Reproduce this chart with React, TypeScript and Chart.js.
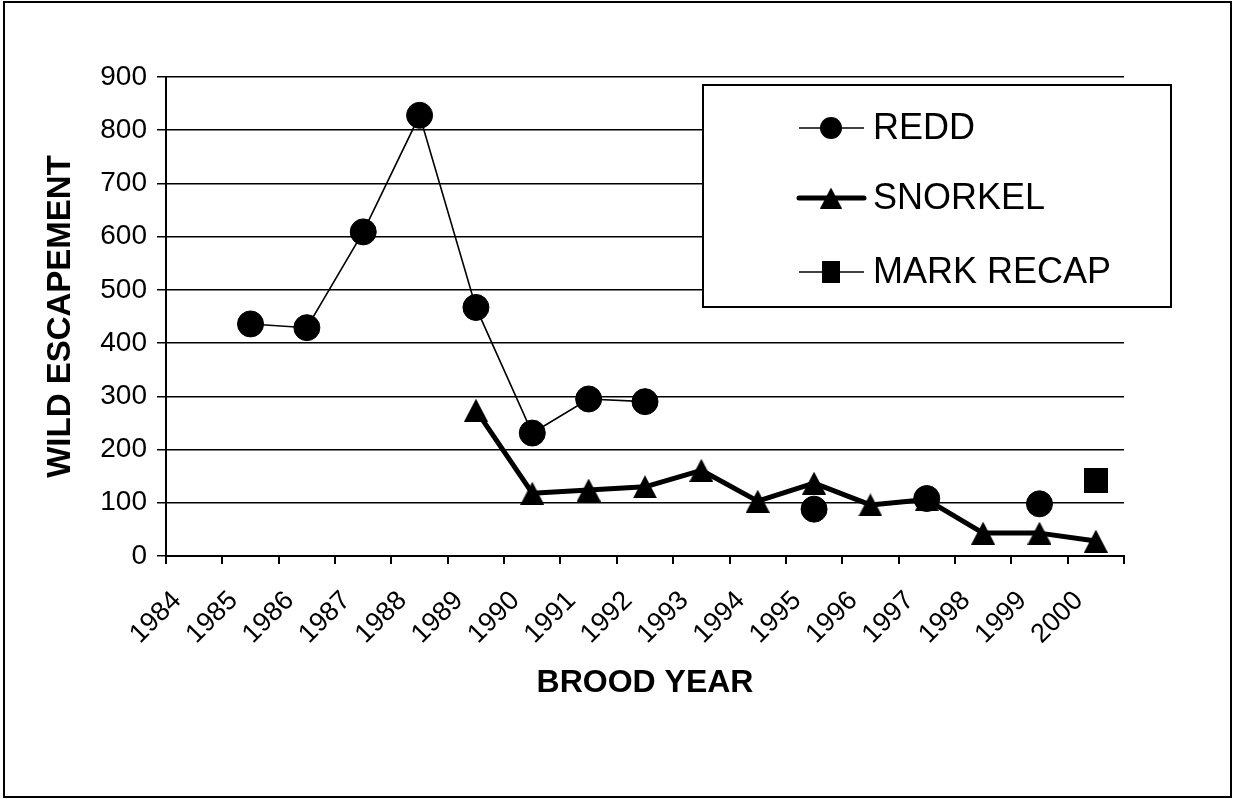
import React, { useEffect, useRef } from 'react';
import { Chart, registerables } from 'chart.js';

Chart.register(...registerables);

const years: string[] = ['1984', '1985', '1986', '1987', '1988', '1989', '1990', '1991', '1992', '1993', '1994', '1995', '1996', '1997', '1998', '1999', '2000'];
const reddValues: (number | null)[] = [null, 436, 429, 609, 828, 467, 231, 295, 290, null, null, 88, null, 108, null, 98, null];
const snorkelValues: (number | null)[] = [null, null, null, null, null, 274, 118, 124, 130, 161, 103, 137, 96, 106, 43, 43, 28];
const markRecapValues: (number | null)[] = [null, null, null, null, null, null, null, null, null, null, null, null, null, null, null, null, 141];
const yTicks: number[] = [0, 100, 200, 300, 400, 500, 600, 700, 800, 900];

const FONT = "'Liberation Sans', Arial, Helvetica, sans-serif";

function makeTriangle(w: number, h: number): HTMLCanvasElement {
  const c = document.createElement('canvas');
  c.width = w; c.height = h;
  const g = c.getContext('2d')!;
  g.fillStyle = '#000';
  g.beginPath();
  g.moveTo(0, h);
  g.lineTo(w / 2, 0);
  g.lineTo(w, h);
  g.closePath();
  g.fill();
  return c;
}
function makeRect(w: number, h: number): HTMLCanvasElement {
  const c = document.createElement('canvas');
  c.width = w; c.height = h;
  const g = c.getContext('2d')!;
  g.fillStyle = '#000';
  g.fillRect(0, 0, w, h);
  return c;
}

export default function App() {
  const ref = useRef<HTMLCanvasElement | null>(null);
  useEffect(() => {
    if (!ref.current) return;
    const tri = makeTriangle(24, 23);
    const sq = makeRect(24, 25);
    const legendTri = makeTriangle(22, 21);
    const legendSq = makeRect(18, 22);

    const legendPlugin = {
      id: 'boxLegend',
      afterDatasetsDraw(chart: any) {
        const ctx = chart.ctx as CanvasRenderingContext2D;
        const box = { x: 703, y: 85, w: 468, h: 222 };
        ctx.save();
        ctx.fillStyle = '#fff';
        ctx.fillRect(box.x, box.y, box.w, box.h);
        ctx.strokeStyle = '#000';
        ctx.lineWidth = 2;
        ctx.strokeRect(box.x, box.y, box.w, box.h);
        const rows = [128, 198, 272];
        chart.data.datasets.forEach((ds: any, i: number) => {
          const y = rows[i];
          ctx.strokeStyle = '#000';
          ctx.lineWidth = ds.borderWidth;
          ctx.lineCap = ds.borderWidth > 3 ? 'round' : 'butt';
          ctx.beginPath();
          ctx.moveTo(799, y);
          ctx.lineTo(864, y);
          ctx.stroke();
          ctx.fillStyle = '#000';
          if (ds.pointStyle === 'circle') {
            ctx.beginPath();
            ctx.arc(831, y, 11, 0, Math.PI * 2);
            ctx.fill();
          } else {
            const img = ds.pointStyle === tri ? legendTri : legendSq;
            ctx.drawImage(img, 831 - img.width / 2, y - img.height / 2);
          }
          ctx.font = `36px ${FONT}`;
          ctx.textAlign = 'left';
          ctx.textBaseline = 'middle';
          ctx.fillText(ds.label, 873, y + 1);
        });
        ctx.restore();
      },
    };

    const chart = new Chart(ref.current, {
      type: 'line',
      data: {
        labels: years,
        datasets: [
          {
            label: 'REDD',
            data: reddValues,
            borderColor: '#000',
            backgroundColor: '#000',
            borderWidth: 1.6,
            pointStyle: 'circle',
            pointRadius: 13,
            pointBackgroundColor: '#000',
            pointBorderColor: '#000',
            pointBorderWidth: 1,
            spanGaps: false,
            tension: 0,
          },
          {
            label: 'SNORKEL',
            data: snorkelValues,
            borderColor: '#000',
            backgroundColor: '#000',
            borderWidth: 5,
            borderJoinStyle: 'round',
            pointStyle: tri as any,
            pointRadius: 12,
            spanGaps: false,
            tension: 0,
          },
          {
            label: 'MARK RECAP',
            data: markRecapValues,
            borderColor: '#000',
            backgroundColor: '#000',
            borderWidth: 1.6,
            pointStyle: sq as any,
            pointRadius: 12,
            spanGaps: false,
            tension: 0,
          },
        ],
      },
      options: {
        animation: false,
        responsive: true,
        maintainAspectRatio: false,
        layout: { padding: { top: 77, right: 109, left: 0, bottom: 0 } },
        plugins: {
          legend: { display: false },
          tooltip: { enabled: false },
        },
        scales: {
          x: {
            type: 'category',
            offset: true,
            afterFit: (s: any) => { s.height = 243; },
            grid: {
              offset: true,
              drawOnChartArea: false,
              drawTicks: true,
              tickLength: 8,
              color: '#000',
              lineWidth: 2,
            },
            border: { display: true, color: '#000', width: 2 },
            ticks: {
              color: '#000',
              font: { family: FONT, size: 27 },
              minRotation: 45,
              maxRotation: 45,
              autoSkip: false,
              labelOffset: -17,
              padding: 21,
            },
            title: {
              display: true,
              text: 'BROOD YEAR',
              color: '#000',
              font: { family: FONT, size: 32, weight: 'bold' },
              padding: { top: 0, bottom: 97 },
            },
          },
          y: {
            min: 0,
            max: 900,
            afterFit: (s: any) => { s.width = 166; },
            afterBuildTicks: (s: any) => { s.ticks = yTicks.map((v) => ({ value: v })); },
            grid: {
              color: '#000',
              lineWidth: 1.5,
              drawTicks: true,
              tickLength: 9,
            },
            border: { display: true, color: '#000', width: 2 },
            ticks: {
              color: '#000',
              font: { family: FONT, size: 28 },
              padding: 10,
            },
            title: {
              display: true,
              text: 'WILD ESCAPEMENT',
              color: '#000',
              font: { family: FONT, size: 33, weight: 'bold' },
              padding: { top: 41, bottom: 0 },
            },
          },
        },
      },
      plugins: [legendPlugin],
    });
    return () => chart.destroy();
  }, []);

  return (
    <>
      <div style={{ position: 'absolute', left: 0, top: 0, width: 1233, height: 799, background: '#fff' }}>
        <canvas ref={ref} />
      </div>
      <div
        style={{
          position: 'absolute',
          left: 3,
          top: 1,
          width: 1229,
          height: 797,
          boxSizing: 'border-box',
          border: '2px solid #000',
          pointerEvents: 'none',
        }}
      />
    </>
  );
}
